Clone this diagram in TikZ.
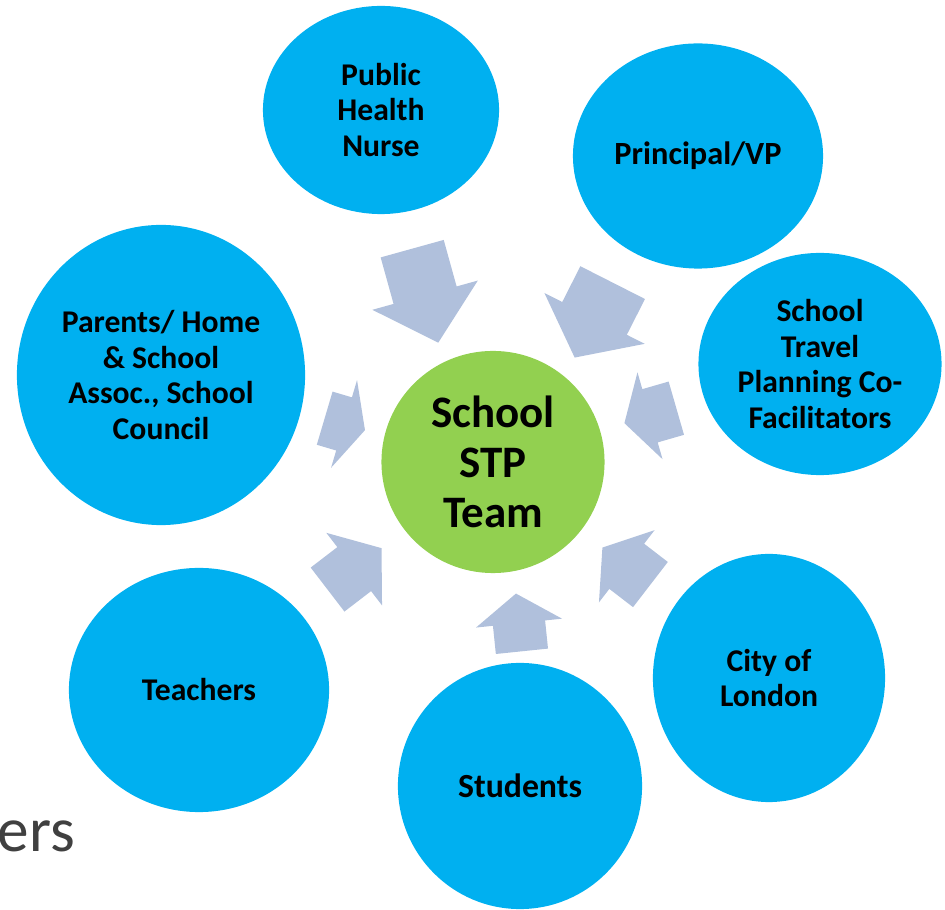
\documentclass[tikz,border=0pt]{standalone}
\usepackage{fontspec}
\setmainfont{Carlito}
\usetikzlibrary{shapes.geometric,shapes.arrows}
\definecolor{bubbleblue}{HTML}{00B0F0}
\definecolor{teamgreen}{HTML}{92D050}
\definecolor{arrowgrey}{HTML}{B0C0DC}
\definecolor{textgrey}{HTML}{404040}

\begin{document}
\begin{tikzpicture}[x=0.01cm,y=0.01cm,
        bubble/.style={ellipse,fill=bubbleblue,inner sep=0pt,align=center,
            font=\bfseries\fontsize{9}{10.1}\selectfont},
        team/.style={ellipse,fill=teamgreen,inner sep=0pt,align=center,
            font=\bfseries\fontsize{12.8}{14.3}\selectfont},
        inarrow/.style={single arrow,fill=arrowgrey,inner xsep=0pt,
            minimum width=0pt,anchor=tail}]
        \useasboundingbox (0,0) rectangle (945,-910);
        \node[bubble,minimum width=2.36cm,minimum height=2.08cm] (nurse) at (381,-110) {Public\\Health\\Nurse};
        \node[bubble,minimum width=2.50cm,minimum height=2.25cm,font=\bfseries\fontsize{9.2}{10.1}\selectfont] (principal) at (698,-156) {Principal/VP};
        \node[bubble,minimum width=2.43cm,minimum height=2.22cm] (facil) at (820,-364) {School\\Travel\\Planning Co-\\Facilitators};
        \node[bubble,minimum width=2.88cm,minimum height=3.00cm] (parents) at (161,-375) {Parents/ Home\\\& School\\Assoc., School\\Council};
        \node[team,minimum width=2.23cm,minimum height=2.22cm] (team) at (493,-462) {School\\STP\\Team};
        \node[bubble,minimum width=2.60cm,minimum height=2.44cm] (teachers) at (199,-690) {Teachers};
        \node[bubble,minimum width=2.44cm,minimum height=2.46cm,font=\bfseries\fontsize{9.6}{10.1}\selectfont] (students) at (520,-786) {Students};
        \node[bubble,minimum width=2.32cm,minimum height=2.48cm] (city) at (769,-678) {City of\\London};
        \node[inarrow,rotate=-74.5,minimum height=0.975cm,inner ysep=0.32cm,single arrow head extend=0.22cm,single arrow tip angle=96] (a-nurse) at (412,-248) {};
        \node[inarrow,rotate=-116.9,minimum height=0.84cm,inner ysep=0.355cm,single arrow head extend=0.2cm,single arrow tip angle=104] (a-principal) at (613,-282) {};
        \node[inarrow,rotate=-163.9,minimum height=0.54cm,inner ysep=0.27cm,single arrow head extend=0.175cm,single arrow tip angle=119] (a-facil) at (677,-408) {};
        \node[inarrow,rotate=-16.5,minimum height=0.42cm,inner ysep=0.27cm,single arrow head extend=0.18cm,single arrow tip angle=129] (a-parents) at (324,-418) {};
        \node[inarrow,rotate=37.5,minimum height=0.68cm,inner ysep=0.27cm,single arrow head extend=0.18cm,single arrow tip angle=106] (a-teachers) at (327,-590) {};
        \node[inarrow,rotate=95.9,minimum height=0.58cm,inner ysep=0.255cm,single arrow head extend=0.17cm,single arrow tip angle=111] (a-students) at (522,-652) {};
        \node[inarrow,rotate=142.4,minimum height=0.606cm,inner ysep=0.278cm,single arrow head extend=0.17cm,single arrow tip angle=112] (a-city) at (651,-585) {};
        \node[anchor=base west,inner sep=0pt,text=textgrey,font=\fontsize{18}{22}\selectfont] (ers) at (-3,-852) {ers};
    \end{tikzpicture}
\end{document}
